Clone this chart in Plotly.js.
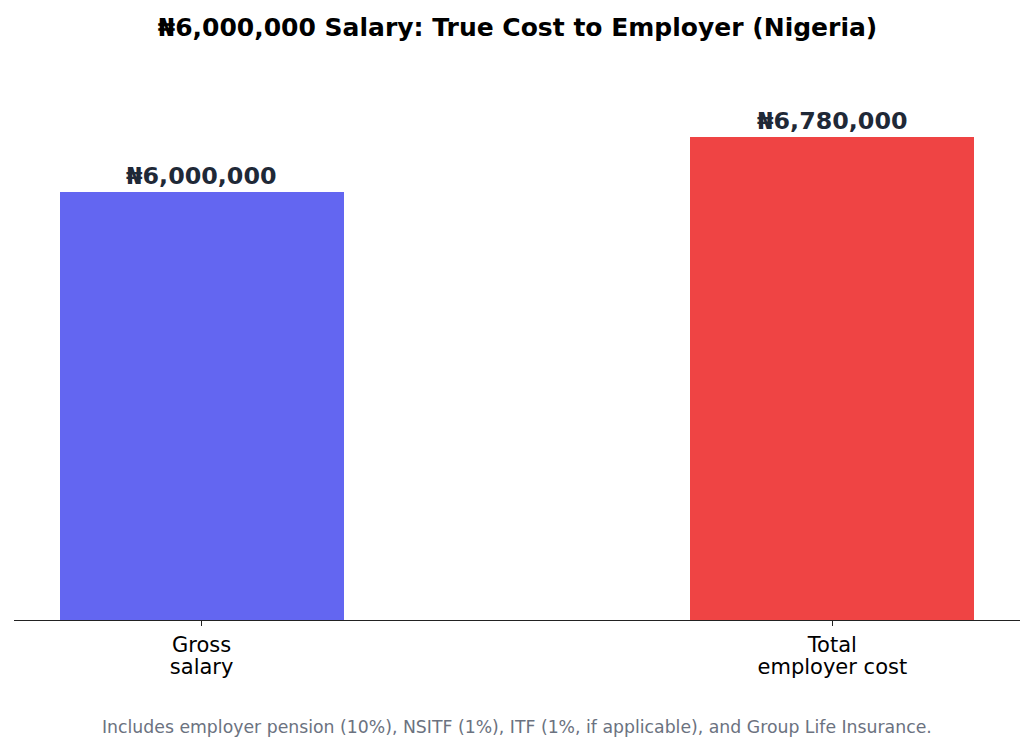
<!DOCTYPE html>
<html>
<head>
<meta charset="utf-8">
<script src="https://cdn.plot.ly/plotly-3.0.1.min.js"></script>
<style>html,body{margin:0;padding:0;background:#fff;}#chart{width:1035px;height:752px;}</style>
</head>
<body>
<div id="chart"></div>
<script>
var categories = ["Gross<br>salary", "Total<br>employer cost"];
var values = [6000000, 6780000];
var valueLabels = ["₦6,000,000", "₦6,780,000"];
var barColors = ["#6366f1", "#ef4444"];
var titleText = "₦6,000,000 Salary: True Cost to Employer (Nigeria)";
var footnote = "Includes employer pension (10%), NSITF (1%), ITF (1%, if applicable), and Group Life Insurance.";

var xIdx = categories.map(function(_, i){ return i; });
var font = "DejaVu Sans, Verdana, sans-serif";
var plotTop = 64, plotBottom = 620, H = 752;
var plotH = plotBottom - plotTop;

var trace = {
  type: "bar",
  x: xIdx,
  y: values,
  width: 0.45,
  marker: {color: barColors, line: {width: 0}},
  hoverinfo: "skip"
};

var annotations = xIdx.map(function(i){
  return {
    x: i, y: values[i], xref: "x", yref: "y",
    text: "<b>" + valueLabels[i] + "</b>",
    showarrow: false, yanchor: "bottom", yshift: 0,
    font: {family: font, size: 23.8, color: "#1f2937"}
  };
});
annotations.push({
  x: 0.5, y: (plotBottom - 727) / plotH, xref: "paper", yref: "paper",
  text: footnote, showarrow: false, yanchor: "middle",
  font: {family: font, size: 17.3, color: "#6b7280"}
});

var maxV = Math.max.apply(null, values);
var layout = {
  width: 1035, height: 752,
  margin: {l: 14, r: 15, t: plotTop, b: H - plotBottom},
  paper_bgcolor: "#fff", plot_bgcolor: "#fff",
  title: {text: "<b>" + titleText + "</b>", x: 0.5, xanchor: "center", y: 1 - 27/H, yanchor: "middle",
          font: {family: font, size: 25, color: "#000"}},
  xaxis: {
    range: [-0.2975, 1.2975],
    tickvals: xIdx, ticktext: categories,
    ticks: "outside", ticklen: 5, tickwidth: 1.3, tickcolor: "#222",
    showline: true, linecolor: "#222", linewidth: 1.4,
    showgrid: false, zeroline: false,
    tickfont: {family: font, size: 21, color: "#000"}
  },
  yaxis: {
    range: [0, maxV * 1.15],
    visible: false, showgrid: false, zeroline: false
  },
  annotations: annotations,
  showlegend: false,
  bargap: 0
};

Plotly.newPlot("chart", [trace], layout, {displayModeBar: false, staticPlot: true}).then(function(gd){
  var spans = gd.querySelectorAll(".xtick text tspan.line");
  spans.forEach(function(s){
    if (s.getAttribute("dy") && parseFloat(s.getAttribute("dy")) > 0) s.setAttribute("dy", "1.05em");
  });
});
</script>
</body>
</html>
